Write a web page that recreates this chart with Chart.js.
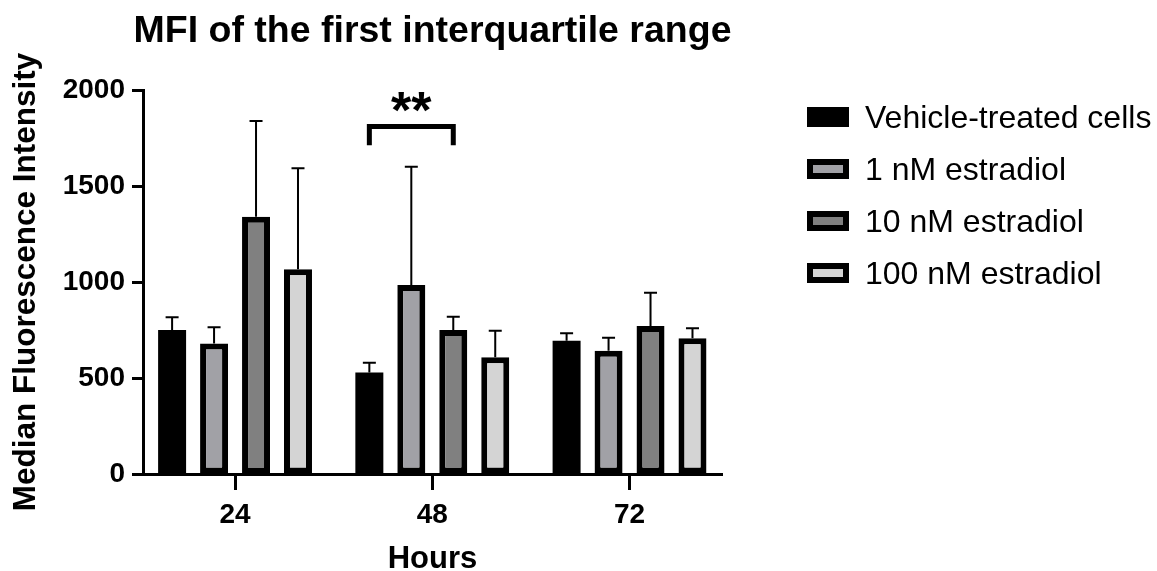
<!DOCTYPE html>
<html>
<head>
<meta charset="utf-8">
<script src="https://cdn.jsdelivr.net/npm/chart.js@4.4.0/dist/chart.umd.min.js"></script>
<style>
html,body{margin:0;padding:0;background:#ffffff;}
#wrap{width:1157px;height:571px;position:relative;}
canvas{display:block;}
</style>
</head>
<body>
<div id="wrap"><canvas id="chart" width="1157" height="571"></canvas></div>
<script>
// ---- data ----
const chartTitle = 'MFI of the first interquartile range';
const xTitle = 'Hours';
const yTitle = 'Median Fluorescence Intensity';
const categories = ['24', '48', '72'];
const seriesNames = ['Vehicle-treated cells', '1 nM estradiol', '10 nM estradiol', '100 nM estradiol'];
const vehicle      = [750, 528, 694];
const estradiol1   = [680, 984, 642];
const estradiol10  = [1340, 750, 771];
const estradiol100 = [1066, 608, 707];
const vehicleErr      = [66, 52, 39];
const estradiol1Err   = [84, 616, 68];
const estradiol10Err  = [498, 69, 173];
const estradiol100Err = [526, 138, 52];
const yTicks = [0, 500, 1000, 1500, 2000];
const xTicks = [24, 48, 72];
const seriesColors = ['#000000', '#a1a1a6', '#808080', '#d4d4d4'];
const significance = [{ category: 1, from: 0, to: 2, label: '**', level: 1810, leg: 1712 }];

const FONT = "'Liberation Sans', Arial, Helvetica, sans-serif";
Chart.defaults.font.family = FONT;
Chart.defaults.color = '#000';

const seriesValues = [vehicle, estradiol1, estradiol10, estradiol100];
const seriesErrors = [vehicleErr, estradiol1Err, estradiol10Err, estradiol100Err];

const datasets = seriesNames.map((name, i) => ({
  label: name,
  data: seriesValues[i],
  errors: seriesErrors[i],
  backgroundColor: seriesColors[i],
  borderColor: '#000000',
  borderWidth: i === 0 ? 0 : 6,
  borderSkipped: false,
  categoryPercentage: 0.851,
  barPercentage: 0.667
}));

const errorBarPlugin = {
  id: 'errorBars',
  afterDatasetsDraw(chart) {
    const ctx = chart.ctx;
    const ys = chart.scales.y;
    ctx.save();
    ctx.strokeStyle = '#000';
    ctx.lineWidth = 2;
    chart.data.datasets.forEach((ds, i) => {
      const meta = chart.getDatasetMeta(i);
      meta.data.forEach((bar, j) => {
        const v = ds.data[j];
        const e = ds.errors[j];
        const x = bar.x;
        const y0 = ys.getPixelForValue(v);
        const y1 = ys.getPixelForValue(v + e);
        ctx.beginPath();
        ctx.moveTo(x, y0);
        ctx.lineTo(x, y1);
        ctx.moveTo(x - 6.5, y1);
        ctx.lineTo(x + 6.5, y1);
        ctx.stroke();
      });
    });
    ctx.restore();
  }
};

const annotationPlugin = {
  id: 'annotations',
  afterDraw(chart) {
    const ctx = chart.ctx;
    const ys = chart.scales.y;
    const area = chart.chartArea;
    ctx.save();
    // title centred over plot area
    ctx.fillStyle = '#000';
    ctx.font = 'bold 37.5px ' + FONT;
    ctx.textAlign = 'center';
    ctx.textBaseline = 'alphabetic';
    ctx.fillText(chartTitle, (area.left + area.right) / 2, 42);

    // significance bracket
    significance.forEach(s => {
      const xa = chart.getDatasetMeta(s.from).data[s.category].x;
      const xb = chart.getDatasetMeta(s.to).data[s.category].x;
      const yTop = ys.getPixelForValue(s.level);
      const yLeg = ys.getPixelForValue(s.leg);
      ctx.strokeStyle = '#000';
      ctx.lineWidth = 5;
      ctx.lineJoin = 'miter';
      ctx.beginPath();
      ctx.moveTo(xa, yLeg);
      ctx.lineTo(xa, yTop);
      ctx.lineTo(xb, yTop);
      ctx.lineTo(xb, yLeg);
      ctx.stroke();
      ctx.font = 'bold 52px ' + FONT;
      ctx.textAlign = 'center';
      ctx.textBaseline = 'alphabetic';
      ctx.fillText(s.label, (xa + xb) / 2, yTop + 2);
    });

    // legend
    const lx = 807, ly0 = 117, step = 52;
    chart.data.datasets.forEach((ds, i) => {
      const cy = ly0 + i * step;
      ctx.fillStyle = '#000';
      ctx.fillRect(lx, cy - 10, 42, 20);
      ctx.fillStyle = ds.backgroundColor;
      ctx.fillRect(lx + 6, cy - 4, 30, 8);
      ctx.fillStyle = '#000';
      ctx.font = '32px ' + FONT;
      ctx.textAlign = 'left';
      ctx.textBaseline = 'middle';
      ctx.fillText(ds.label, 865, cy + 2);
    });
    ctx.restore();
  }
};

new Chart(document.getElementById('chart'), {
  type: 'bar',
  data: { labels: categories, datasets: datasets },
  options: {
    responsive: false,
    animation: false,
    layout: { padding: { left: 0, right: 435, top: 90, bottom: 0 } },
    plugins: {
      legend: { display: false },
      title: { display: false },
      tooltip: { enabled: false }
    },
    scales: {
      x: {
        type: 'linear',
        min: 12.8,
        max: 83.25,
        offset: false,
        border: { display: true, color: '#000', width: 3 },
        grid: { display: true, offset: false, drawOnChartArea: false, drawTicks: true, tickLength: 16, tickWidth: 3, tickColor: '#000' },
        afterBuildTicks(s) { s.ticks = xTicks.map(v => ({ value: v })); },
        ticks: { color: '#000', font: { size: 28, weight: 'bold' }, padding: 8, callback: v => String(v) },
        title: { display: true, text: xTitle, color: '#000', font: { size: 31, weight: 'bold', lineHeight: 1 }, padding: { top: 0, bottom: -4 } },
        afterFit(s) { s.height = 97; }
      },
      y: {
        min: 0,
        max: 2000,
        border: { display: true, color: '#000', width: 3 },
        grid: { display: true, drawOnChartArea: false, drawTicks: true, tickLength: 11, tickWidth: 3, tickColor: '#000' },
        afterBuildTicks(s) { s.ticks = yTicks.map(v => ({ value: v })); },
        ticks: { color: '#000', font: { size: 28, weight: 'bold' }, padding: 7, callback: v => String(v) },
        title: { display: true, text: yTitle, color: '#000', font: { size: 31.5, weight: 'bold' }, padding: { top: 7, bottom: 0 } },
        afterFit(s) { s.height = s.height; s.width = 143; }
      }
    }
  },
  plugins: [errorBarPlugin, annotationPlugin]
});
</script>
</body>
</html>
